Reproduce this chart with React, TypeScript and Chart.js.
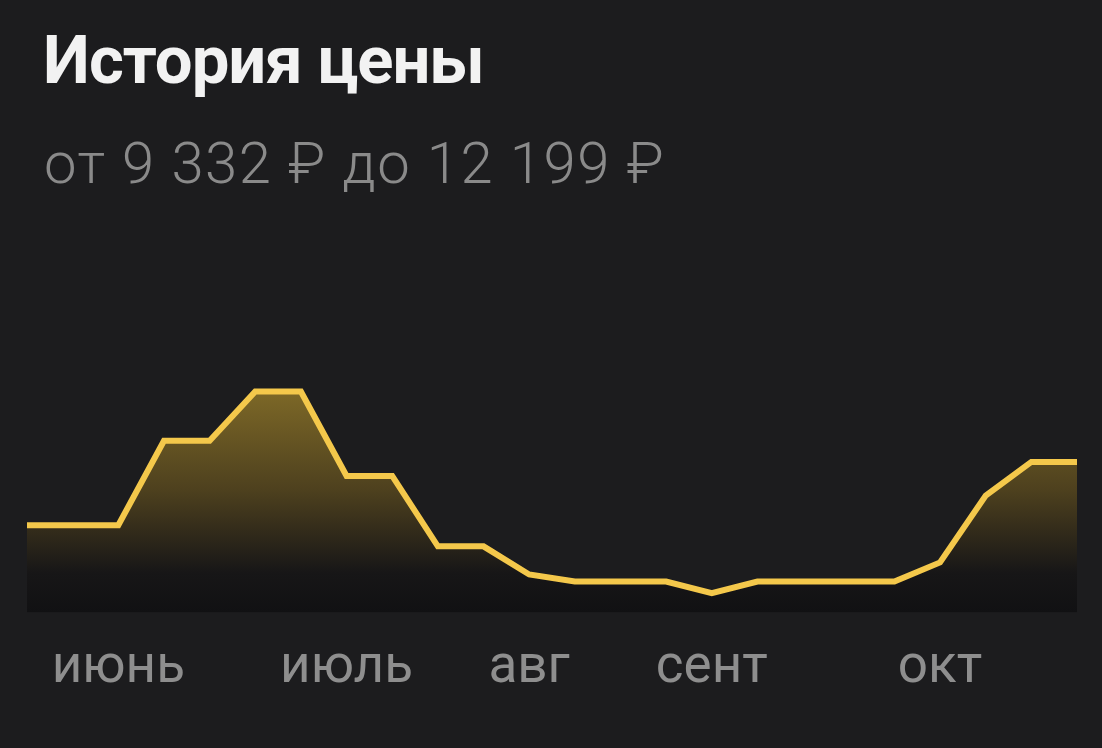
import React, { useEffect, useRef } from "react";
import { Chart, registerables } from "chart.js";

Chart.register(...registerables);

const TITLE = "История цены";
const SUBTITLE = "от 9 332 ₽ до 12 199 ₽";

const categories = [
  "", "", "июнь", "", "", "", "", "июль", "", "", "", "авг",
  "", "", "", "сент", "", "", "", "", "окт", "", "", "",
];

const prices = [
  10300, 10300, 10300, 11499, 11499, 12199, 12199, 10999, 10999, 9999, 9999, 9599,
  9499, 9499, 9499, 9332, 9499, 9499, 9499, 9499, 9770, 10720, 11199, 11199,
];

const Y_MIN = 9060;
const Y_MAX = 13500;

export default function App() {
  const ref = useRef<HTMLCanvasElement | null>(null);

  useEffect(() => {
    document.body.style.margin = "0";
    document.body.style.background = "#1c1c1e";
    const canvas = ref.current;
    if (!canvas) return;
    const chart = new Chart(canvas, {
      type: "line",
      data: {
        labels: categories,
        datasets: [
          {
            data: prices,
            borderColor: "#f4c84b",
            borderWidth: 6,
            borderCapStyle: "butt",
            borderJoinStyle: "miter",
            tension: 0,
            pointRadius: 0,
            pointHoverRadius: 0,
            fill: "start",
            backgroundColor: (ctx: any) => {
              const c = ctx.chart;
              const area = c.chartArea;
              if (!area) return "rgba(0,0,0,0)";
              const ys = c.scales.y;
              const top = ys.getPixelForValue(Math.max(...prices));
              const g = c.ctx.createLinearGradient(0, top, 0, area.bottom);
              g.addColorStop(0, "#7d6827");
              g.addColorStop(0.45, "#4d401e");
              g.addColorStop(0.82, "#171617");
              g.addColorStop(1, "#111113");
              return g;
            },
          },
        ],
      },
      options: {
        animation: false,
        responsive: false,
        maintainAspectRatio: false,
        layout: { padding: { left: 27, right: 25, top: 0, bottom: 22 } },
        plugins: {
          legend: { display: false },
          tooltip: { enabled: false },
        },
        scales: {
          x: {
            grid: { display: false, drawTicks: false },
            border: { display: false },
            ticks: {
              autoSkip: false,
              maxRotation: 0,
              minRotation: 0,
              padding: 25,
              color: "#8e8e8e",
              font: { family: "Roboto", size: 53, lineHeight: 1.2 },
            },
          },
          y: {
            display: false,
            min: Y_MIN,
            max: Y_MAX,
          },
        },
      },
    });
    return () => chart.destroy();
  }, []);

  return (
    <div
      style={{
        position: "absolute",
        left: 0,
        top: 0,
        width: 1102,
        height: 748,
        background: "#1c1c1e",
        overflow: "hidden",
        fontFamily: "Roboto, sans-serif",
      }}
    >
      <div
        style={{
          position: "absolute",
          left: 43,
          top: 27,
          fontSize: 67,
          lineHeight: "67px",
          fontWeight: 700,
          letterSpacing: -1,
          color: "#f2f2f2",
          whiteSpace: "nowrap",
        }}
      >
        {TITLE}
      </div>
      <div
        style={{
          position: "absolute",
          left: 44,
          top: 134,
          fontSize: 58,
          lineHeight: "58px",
          fontWeight: 300,
          letterSpacing: 1.5,
          color: "#8a8a8a",
          whiteSpace: "nowrap",
        }}
      >
        {SUBTITLE}
      </div>
      <canvas
        ref={ref}
        width={1102}
        height={448}
        style={{ position: "absolute", left: 0, top: 300, width: 1102, height: 448 }}
      />
    </div>
  );
}
